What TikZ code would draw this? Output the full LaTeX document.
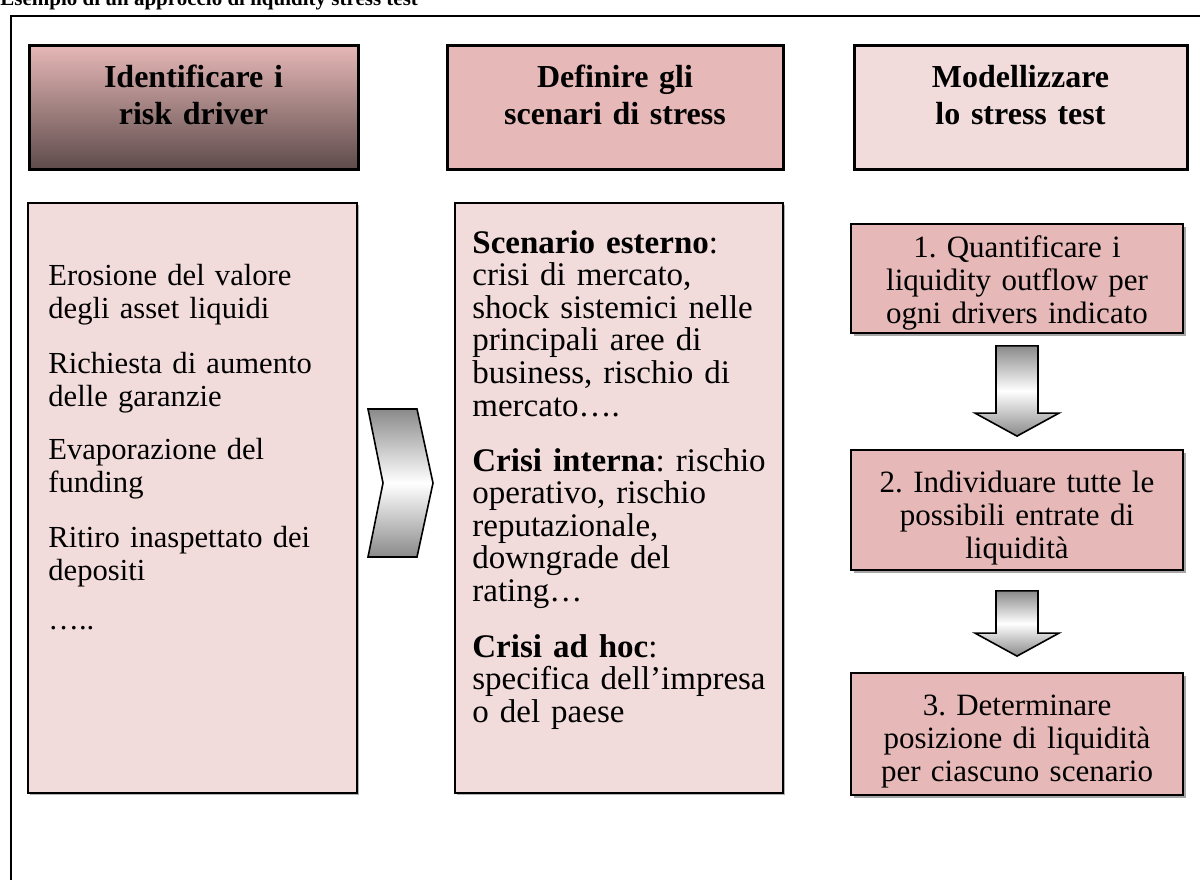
\documentclass[tikz,border=0pt]{standalone}
\usepackage{fontspec}
\setmainfont{Liberation Serif}
\usetikzlibrary{calc,shadows}
\definecolor{pinkA}{HTML}{E6B8B7}
\definecolor{pinkB}{HTML}{F2DCDB}
\definecolor{darkH}{HTML}{5E4B4B}
\definecolor{arrgray}{HTML}{8A8A8A}
\frenchspacing
\begin{document}
\begin{tikzpicture}[x=0.5pt,y=-0.5pt,
  hdrbox/.style={draw=black, line width=1.5pt, inner sep=0pt},
  hdrtext/.style={font=\bfseries\fontsize{16}{18.5}\selectfont, inner sep=0pt, text width=165pt, align=center, anchor=base},
  contbox/.style={draw=black, line width=1pt, fill=pinkB, inner sep=0pt,
     general shadow={shadow xshift=1pt, shadow yshift=-1pt, fill=gray!60}},
  stepbox/.style={draw=black, line width=0.9pt, fill=pinkA, inner sep=0pt, minimum width=166pt,
     general shadow={shadow xshift=1.3pt, shadow yshift=-1.3pt, fill=gray!70}},
  bodyA/.style={font=\fontsize{15.3}{16.5}\selectfont, inner sep=0pt, text width=170pt, align=left, anchor=base west},
  bodyB/.style={font=\fontsize{16.5}{16.3}\selectfont, inner sep=0pt, text width=170pt, align=left, anchor=base west},
  steptext/.style={font=\fontsize{15.5}{16.6}\selectfont, inner sep=0pt, text width=166pt, align=center, anchor=base},
  blockarrow/.style={draw=black, line width=0.8pt, top color=arrgray, bottom color=arrgray, middle color=white}
]
\useasboundingbox (0,0) rectangle (1200,879);
% title
\node[anchor=base west, inner sep=0pt, font=\bfseries\fontsize{10.5}{12}\selectfont] (title) at (0,5) {Esempio di un approccio di liquidity stress test};
% frame
\draw[line width=1pt] (11,900) -- (11,16) -- (1210,16);
% header boxes
\node[hdrbox, top color=pinkA, bottom color=darkH, minimum width=164.5pt, minimum height=62pt] (h1) at (193.5,107) {};
\node[hdrbox, fill=pinkA, minimum width=168pt, minimum height=62pt] (h2) at (615,107) {};
\node[hdrbox, fill=pinkB, minimum width=166.5pt, minimum height=62pt] (h3) at (1020.5,107) {};
\node[hdrtext] (h1t) at (193.5,87) {Identificare i\\risk driver};
\node[hdrtext] (h2t) at (615,87) {Definire gli\\scenari di stress};
\node[hdrtext] (h3t) at (1020.5,87) {Modellizzare\\lo stress test};
% content boxes
\node[contbox, minimum width=164.5pt, minimum height=295pt] (c1) at (192.5,498) {};
\node[contbox, minimum width=164pt, minimum height=295pt] (c2) at (619,498) {};
\node[bodyA] (p1) at (48,285) {Erosione del valore\\degli asset liquidi};
\node[bodyA] (p2) at (48,373) {Richiesta di aumento\\delle garanzie};
\node[bodyA] (p3) at (48,459) {Evaporazione del\\funding};
\node[bodyA] (p4) at (48,547) {Ritiro inaspettato dei\\depositi};
\node[bodyA] (p5) at (48,629) {…..};
\node[bodyB] (q1) at (472,253) {\textbf{Scenario esterno}:\\crisi di mercato,\\shock sistemici nelle\\principali aree di\\business, rischio di\\mercato….};
\node[bodyB] (q2) at (472,471) {\textbf{Crisi interna}: rischio\\operativo, rischio\\reputazionale,\\downgrade del\\rating…};
\node[bodyB] (q3) at (472,657) {\textbf{Crisi ad hoc}:\\specifica dell’impresa\\o del paese};
% chevron
\shade[blockarrow] (368,409) -- (417,409) -- (433,483) -- (417,557) -- (368,557) -- (383,483) -- cycle;
% step boxes
\node[stepbox, minimum height=54.5pt] (b1) at (1017,278.5) {};
\node[stepbox, minimum height=60pt] (b2) at (1017,510) {};
\node[stepbox, minimum height=61pt] (b3) at (1017,734) {};
\node[steptext] (r1) at (1017,257) {1. Quantificare i\\liquidity outflow per\\ogni drivers indicato};
\node[steptext] (r2) at (1017,492) {2. Individuare tutte le\\possibili entrate di\\liquidità};
\node[steptext] (r3) at (1017,715) {3. Determinare\\posizione di liquidità\\per ciascuno scenario};
% block arrows
\shade[blockarrow] ($(b1.south)+(-21,12)$) -- ($(b1.south)+(21,12)$) -- ($(b2.north)+(21,-36)$) -- ($(b2.north)+(42,-36)$) -- ($(b2.north)+(0,-13)$) -- ($(b2.north)+(-42,-36)$) -- ($(b2.north)+(-21,-36)$) -- cycle;
\shade[blockarrow] ($(b2.south)+(-21,20)$) -- ($(b2.south)+(21,20)$) -- ($(b3.north)+(21,-39)$) -- ($(b3.north)+(42,-39)$) -- ($(b3.north)+(0,-16)$) -- ($(b3.north)+(-42,-39)$) -- ($(b3.north)+(-21,-39)$) -- cycle;
\end{tikzpicture}
\end{document}
